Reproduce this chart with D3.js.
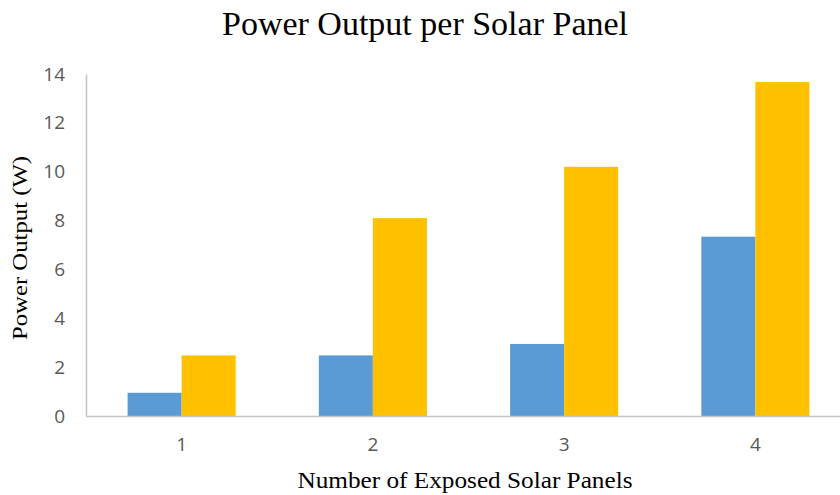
<!DOCTYPE html>
<html>
<head>
<meta charset="utf-8">
<script src="https://cdn.jsdelivr.net/npm/d3@7"></script>
<style>
  body { margin: 0; background: #fff; }
  svg { display: block; }
</style>
</head>
<body>
<div id="chart"></div>
<script>
const panels = ['1', '2', '3', '4'];
const seriesNames = ['A', 'B'];
const seriesA = [0.95, 2.48, 2.95, 7.34];
const seriesB = [2.48, 8.1, 10.2, 13.67];
const yTicks = [0, 2, 4, 6, 8, 10, 12, 14];
const COLORS = { A: '#5b9bd5', B: '#ffc000' };

const width = 840, height = 495;
const margin = { top: 74, right: -11, bottom: 79, left: 86 };

const rows = panels.map((p, i) => ({ panel: p, A: seriesA[i], B: seriesB[i] }));

const svg = d3.select('#chart').append('svg').attr('width', width).attr('height', height);

const x = d3.scaleBand().domain(panels).range([margin.left, width - margin.right]).paddingInner(0.435).paddingOuter(0.2175);
const x1 = d3.scaleBand().domain(seriesNames).range([0, x.bandwidth()]);
const y = d3.scaleLinear().domain([0, 14]).range([height - margin.bottom, margin.top]);

// bars
svg.append('g').selectAll('g').data(rows).enter().append('g')
  .attr('transform', d => `translate(${x(d.panel)},0)`)
  .selectAll('rect').data(d => seriesNames.map(k => ({ key: k, value: d[k] }))).enter().append('rect')
  .attr('x', d => x1(d.key)).attr('width', x1.bandwidth())
  .attr('y', d => y(d.value)).attr('height', d => y(0) - y(d.value))
  .attr('fill', d => COLORS[d.key]);

// y axis
const yAxis = svg.append('g').attr('transform', `translate(${margin.left},0)`)
  .call(d3.axisLeft(y).tickValues(yTicks).tickSize(0).tickPadding(21));
yAxis.select('.domain').attr('stroke', '#c4c4c4').attr('stroke-width', 1.5);
yAxis.selectAll('text').attr('fill', '#595959').attr('font-size', 19).attr('font-family', 'Open Sans, sans-serif');

// x axis
const xAxis = svg.append('g').attr('transform', `translate(0,${y(0)})`)
  .call(d3.axisBottom(x).tickSize(0).tickPadding(22));
xAxis.select('.domain').attr('stroke', '#c4c4c4').attr('stroke-width', 1.5);
xAxis.selectAll('text').attr('fill', '#595959').attr('font-size', 19).attr('font-family', 'Open Sans, sans-serif');

// titles
svg.append('text').attr('x', 425).attr('y', 35).attr('text-anchor', 'middle')
  .attr('font-family', 'Liberation Serif, serif').attr('font-size', 34).attr('fill', '#000')
  .text('Power Output per Solar Panel');
svg.append('text').attr('transform', 'rotate(-90)').attr('x', -248).attr('y', 27).attr('text-anchor', 'middle')
  .attr('font-family', 'Liberation Serif, serif').attr('font-size', 22).attr('fill', '#000')
  .attr('textLength', 184).attr('lengthAdjust', 'spacingAndGlyphs')
  .text('Power Output (W)');
svg.append('text').attr('x', 465).attr('y', 488).attr('text-anchor', 'middle')
  .attr('font-family', 'Liberation Serif, serif').attr('font-size', 24).attr('fill', '#000')
  .attr('textLength', 335).attr('lengthAdjust', 'spacingAndGlyphs')
  .text('Number of Exposed Solar Panels');
</script>
</body>
</html>
